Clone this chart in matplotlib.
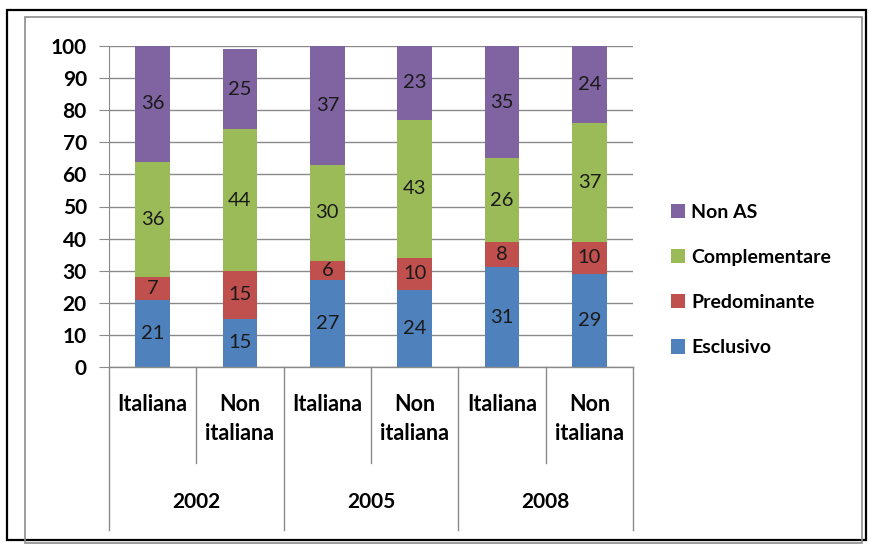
import numpy as np
import matplotlib
matplotlib.use('Agg')
import matplotlib.pyplot as plt
from matplotlib.patches import Rectangle

# Stacked shares by year and citizenship
years = ['2002', '2005', '2008']
groups = ['Italiana', 'Non\nitaliana'] * 3
series = ['Esclusivo', 'Predominante', 'Complementare', 'Non AS']
esclusivo = [21, 15, 27, 24, 31, 29]
predominante = [7, 15, 6, 10, 8, 10]
complementare = [36, 44, 30, 43, 26, 37]
non_as = [36, 25, 37, 23, 35, 24]
colors = ['#4F81BD', '#C0504D', '#9BBB59', '#8064A2']

plt.rcParams['font.family'] = ['Lato', 'DejaVu Sans']

fig = plt.figure(figsize=(8.73, 5.45), dpi=100)
W, H = 873, 545

# outer frame and chart area border
fig.patches.append(Rectangle((7 / W, 1 - 540 / H), 859 / W, 530 / H, transform=fig.transFigure,
                             fill=False, edgecolor='black', linewidth=1.6))
fig.patches.append(Rectangle((25 / W, 1 - 543 / H), 837 / W, 526 / H, transform=fig.transFigure,
                             fill=False, edgecolor='#8c8c8c', linewidth=1.2))

ax = fig.add_axes([109 / W, 1 - 367 / H, 524 / W, 321 / H])

x = np.arange(len(groups))
bottom = np.zeros(len(groups))
for name, vals, c in zip(series, [esclusivo, predominante, complementare, non_as], colors):
    vals = np.array(vals, dtype=float)
    ax.bar(x, vals, width=0.4, bottom=bottom, color=c, label=name, zorder=3)
    for xi, b, v in zip(x, bottom, vals):
        ax.text(xi, b + v / 2, f'{int(v)}', ha='center', va='center', fontsize=14.5,
                color='#1a1a1a', zorder=4)
    bottom += vals

ax.set_xlim(-0.5, 5.5)
ax.set_ylim(0, 100)
ax.set_yticks(range(0, 101, 10))
ax.yaxis.grid(True, color='#8a8a8a', linewidth=1.0, zorder=0)
ax.set_axisbelow(True)
for s in ['top', 'right', 'bottom']:
    ax.spines[s].set_visible(False)
ax.spines['left'].set_color('#8a8a8a')
ax.tick_params(axis='y', length=7, color='#8a8a8a', labelsize=15, pad=9)
for t in ax.get_yticklabels():
    t.set_fontweight('bold')
ax.set_xticks([])

# two-level category axis
tr = ax.get_xaxis_transform()
ax.plot([-0.5, 5.5], [0, 0], color='#8a8a8a', lw=1.0, transform=tr, clip_on=False, zorder=5)
for i in range(7):
    xs = i - 0.5
    low = -0.508 if i % 2 == 0 else -0.299
    ax.plot([xs, xs], [0, low], color='#8a8a8a', lw=1.0, transform=tr, clip_on=False)
for xi, g in zip(x, groups):
    ax.text(xi, -0.085, g, transform=tr, ha='center', va='top', fontsize=15.5,
            fontweight='bold', linespacing=1.45)
for j, yr in enumerate(years):
    ax.text(2 * j + 0.5, -0.42, yr, transform=tr, ha='center', va='center', fontsize=15,
            fontweight='bold')

handles, labels = ax.get_legend_handles_labels()
leg = fig.legend(handles[::-1], labels[::-1], loc='center left', bbox_to_anchor=(653 / W, 1 - 280 / H),
                 frameon=False, handlelength=0.75, handleheight=0.75,
                 handletextpad=0.3, labelspacing=1.45, prop={'weight': 'bold', 'size': 14})

fig.savefig('out.png', dpi=100)
